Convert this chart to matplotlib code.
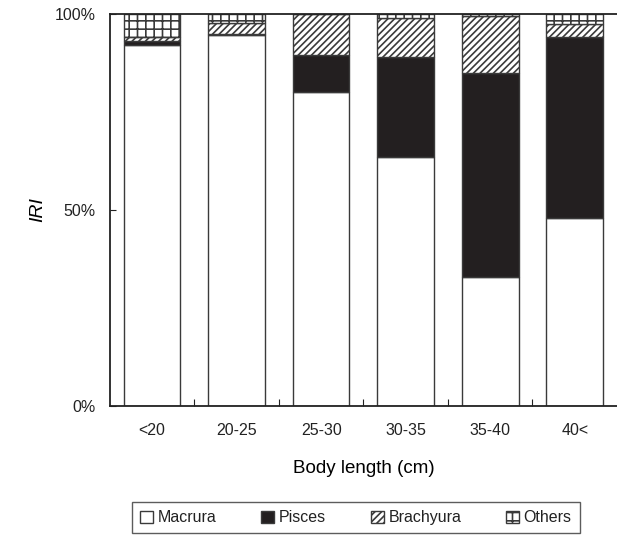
import numpy as np
import matplotlib.pyplot as plt
from matplotlib.patches import Patch
import matplotlib.ticker as ticker

plt.rcParams['font.family'] = ['Liberation Sans', 'DejaVu Sans']
plt.rcParams['hatch.linewidth'] = 1.2
plt.rcParams['text.color'] = '#222222'
plt.rcParams['xtick.color'] = '#222222'
plt.rcParams['ytick.color'] = '#222222'

# Diet composition (%IRI) by body length class
length_classes = ['<20', '20-25', '25-30', '30-35', '35-40', '40<']
macrura = [92.0, 94.5, 80.0, 63.5, 33.0, 48.0]
pisces = [1.0, 0.3, 9.5, 25.5, 52.0, 46.0]
brachyura = [1.0, 3.0, 10.5, 10.0, 14.5, 3.5]
others = [6.0, 2.2, 0.0, 1.0, 0.5, 2.5]

edge = '#3a3a3a'
x = np.arange(len(length_classes))
width = 0.67

fig = plt.figure(figsize=(6.17, 5.35), dpi=100)
ax = fig.add_axes([0.178, 0.241, 0.822, 0.733])

bottom = np.zeros(len(x))
styles = [
    ('Macrura', macrura, 'white', None),
    ('Pisces', pisces, '#231f20', None),
    ('Brachyura', brachyura, 'white', '/////'),
    ('Others', others, 'white', '++'),
]
for label, vals, color, hatch in styles:
    vals = np.array(vals)
    ax.bar(x, vals, width, bottom=bottom, color=color, edgecolor=edge,
           linewidth=1.0, hatch=hatch, label=label)
    bottom += vals

ax.set_xlim(-0.5, 5.5)
ax.set_ylim(0, 100)
ax.set_yticks([0, 50, 100])
ax.yaxis.set_major_formatter(ticker.FuncFormatter(lambda v, p: f'{int(v)}%'))
ax.set_xticks(x)
ax.set_xticklabels(length_classes)
ax.set_xticks(x[:-1] + 0.5, minor=True)
ax.tick_params(axis='x', which='major', length=0, pad=12, labelsize=11.5)
ax.tick_params(axis='x', which='minor', direction='in', length=5, width=0.8)
ax.tick_params(axis='y', direction='in', length=4, width=0.8, pad=10, labelsize=11.5)

ax.spines['right'].set_visible(False)
for side in ['left', 'bottom', 'top']:
    ax.spines[side].set_linewidth(1.3)
    ax.spines[side].set_color('#222222')

ax.set_ylabel('IRI', fontstyle='italic', fontsize=14, labelpad=6)
ax.set_xlabel('Body length (cm)', fontsize=13.5, labelpad=16)

handles = [Patch(facecolor=c, edgecolor=edge, hatch=h, label=l)
           for l, _, c, h in styles]
leg = fig.legend(handles=handles, loc='center', bbox_to_anchor=(0.577, 0.032),
                 ncol=4, frameon=True, fancybox=False, edgecolor='#333333',
                 fontsize=11.5, handlelength=0.8, handleheight=0.8,
                 handletextpad=0.3, columnspacing=2.8, borderpad=0.5)
leg.get_frame().set_linewidth(1.0)

fig.savefig('out.png', dpi=100)
